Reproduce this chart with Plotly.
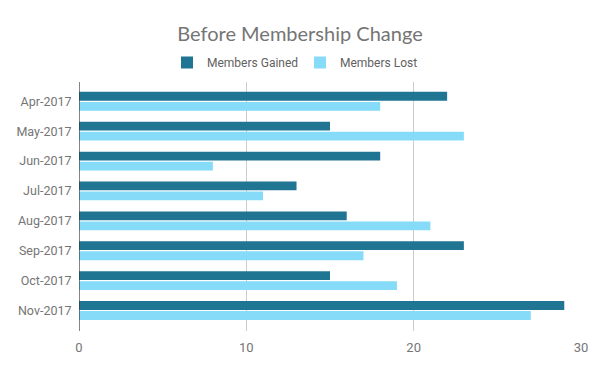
import plotly.graph_objects as go

months = ["Apr-2017", "May-2017", "Jun-2017", "Jul-2017",
          "Aug-2017", "Sep-2017", "Oct-2017", "Nov-2017"]
members_gained = [22, 15, 18, 13, 16, 23, 15, 29]
members_lost = [18, 23, 8, 11, 21, 17, 19, 27]
x_ticks = [0, 10, 20, 30]

W, H = 600, 371
fig = go.Figure()
fig.add_trace(go.Bar(y=months, x=members_gained, orientation="h",
                     name="Members Gained", marker_color="#207593",
                     marker_line_width=0))
fig.add_trace(go.Bar(y=months, x=members_lost, orientation="h",
                     name="Members Lost", marker_color="#86dbf8",
                     marker_line_width=0))

fig.update_layout(
    width=W, height=H,
    paper_bgcolor="white", plot_bgcolor="white",
    margin=dict(l=78.5, r=18.5, t=82, b=40, autoexpand=False),
    barmode="group", bargap=0.33, bargroupgap=0.12,
    font=dict(family="Roboto", color="#757575", size=13),
    title=dict(text="Before Membership Change", x=0.5, xanchor="center",
               xref="container", yref="container",
               y=1 - 33.5 / H, yanchor="middle",
               font=dict(family="Lato", size=20, color="#757575")),
    legend=dict(orientation="h", xref="container", yref="container",
                x=0.5, xanchor="center", y=1 - 62.5 / H, yanchor="middle",
                font=dict(family="Roboto", size=12, color="#616161"),
                traceorder="normal", entrywidth=88, entrywidthmode="pixels"),
    showlegend=True,
)
fig.update_xaxes(range=[0, 30], tickvals=x_ticks, showgrid=True,
                 gridcolor="#cccccc", gridwidth=1, zeroline=False,
                 showline=False, tickfont=dict(size=13, color="#757575"),
                 ticks="outside", ticklen=4, tickcolor="rgba(0,0,0,0)",
                 automargin=False)
fig.update_yaxes(categoryorder="array", categoryarray=months,
                 range=[7.686, -0.645], showgrid=False, zeroline=False,
                 showline=False, ticks="outside", ticklen=4,
                 tickcolor="rgba(0,0,0,0)", automargin=False,
                 tickfont=dict(size=12.5, color="#757575"))
# vertical baseline at x = 0
fig.add_shape(type="line", xref="x", yref="paper", x0=0, x1=0, y0=0, y1=1,
              line=dict(color="#333333", width=1.2))

fig.write_html("out.html", config={"displayModeBar": False},
               post_script="document.body.style.margin='0px';"
                           "document.body.style.padding='0px';")
